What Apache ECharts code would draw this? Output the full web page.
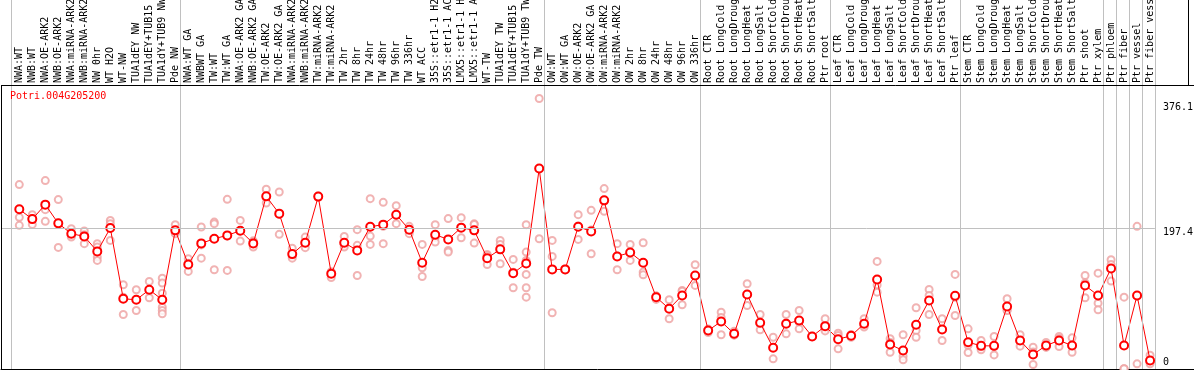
<!DOCTYPE html>
<html><head><meta charset="utf-8">
<script src="https://cdn.jsdelivr.net/npm/echarts@6/dist/echarts.min.js"></script>
<style>html,body{margin:0;padding:0;background:#fff}#c{width:1194px;height:370px}</style>
</head><body><div id="c"></div>
<script>
const geneId = 'Potri.004G205200';
const categories = [
 'NWA:WT','NWB:WT','NWA:OE-ARK2','NWB:OE-ARK2','NWA:miRNA-ARK2','NWB:miRNA-ARK2','NW 0hr','WT H2O','WT-NW','TUA1dEY NW','TUA1dEY+TUB15 NW','TUA1dY+TUB9 NW','Pde NW',
 'NWA:WT GA','NWBWT GA','TW:WT','TW:WT GA','NWA:OE-ARK2 GA','NWB:OE-ARK2 GA','TW:OE-ARK2','TW:OE-ARK2 GA','NWA:miRNA-ARK2 GA','NWB:miRNA-ARK2 GA','TW:miRNA-ARK2','TW:miRNA-ARK2',
 'TW 2hr','TW 8hr','TW 24hr','TW 48hr','TW 96hr','TW 336hr','WT ACC','35S::etr1-1 H2O','35S::etr1-1 ACC','LMX5::etr1-1 H2O','LMX5::etr1-1 ACC','WT-TW','TUA1dEY TW','TUA1dEY+TUB15 TW','TUA1dY+TUB9 TW','Pde TW',
 'OW:WT','OW:WT GA','OW:OE-ARK2','OW:OE-ARK2 GA','OW:miRNA-ARK2','OW:miRNA-ARK2','OW 2hr','OW 8hr','OW 24hr','OW 48hr','OW 96hr','OW 336hr',
 'Root CTR','Root LongCold','Root LongDrought','Root LongHeat','Root LongSalt','Root ShortCold','Root ShortDrought','Root ShortHeat','Root ShortSalt','Ptr root',
 'Leaf CTR','Leaf LongCold','Leaf LongDrought','Leaf LongHeat','Leaf LongSalt','Leaf ShortCold','Leaf ShortDrought','Leaf ShortHeat','Leaf ShortSalt','Ptr leaf',
 'Stem CTR','Stem LongCold','Stem LongDrought','Stem LongHeat','Stem LongSalt','Stem ShortCold','Stem ShortDrought','Stem ShortHeat','Stem ShortSalt',
 'Ptr shoot','Ptr xylem','Ptr phloem','Ptr fiber','Ptr vessel','Ptr fiber vessel'
];
const meanValues = [
 225.4,211,232.3,204.7,189.5,185.5,163.4,197.8,93.6,92.2,106.9,92.2,194.4,
 144.2,175.2,182.1,187,193.9,175.2,244.5,219,159.4,176.2,244.1,130.5,
 176.2,164.9,199.8,202.8,217.5,195.4,146.8,188,181.1,198.4,194.4,153.5,166.4,131.4,145.7,285.4,
 136.9,136.9,199.8,192.9,238.6,156,161.9,146.8,96,78.9,98.5,128,
 46.9,60.2,42,100,58.3,21.4,56.8,61.7,38.1,53.3,
 34.1,39.1,56.8,122.1,26.3,17.4,55.3,91.2,48.4,98.1,
 29.7,24.3,24.3,82.3,32.2,11.5,24.8,32.2,24.8,
 113.3,98.5,138.3,24.8,98.5,2.7
];
const replicateValues = [
 [261.8,213.6,201.8],[217.5,212,203.2],[267.7,224.9,207.7],[239.7,205,169.3],[196.9,187,184.5],[193.4,188,174.8],
 [174.8,169.8,155,150.1],[209.1,204.3,179.6],[114.3,96,70.5],[106.9,93,76.4],[119.2,106,95.1],
 [124,116.7,101.9,81.3,76.4,71.5],[202.8,191,189.5],
 [152.7,146,133.9],[199.3,173,153.5],[206.6,204.3,136.4],[240.1,186,135.4],[209.1,194,178.6],[179,177.1,169.8],
 [254.9,244,234.7],[250.9,218,188.5],[168,156.5,153.5],[184.5,175,168.9],[245,244,243.5],[133,133,125],
 [185.5,173,169.8],[195.4,172.3,128],[241.1,186,173.7],[235.7,200.3,174.8],[230.8,218,204.3],[200.3,196,189.5],
 [173.7,139.4,126.5],[202.8,184,177.1],[211.7,164.9,162.4],[213.1,198.5,183.6],[204,203.2,175.7],[159,157.5,144.2],
 [179.6,173.7,145.2],[151.6,132.7,109.9],[202.8,162.4,150.1,129.5,109.9,96],[388.6,285.5,182.1],
 [179.6,156,73],[137.5,136.9,136.3],[217.5,201,181.1],[223.9,194.8,160],[255.9,237.5,222.4],[174.8,156.8,136.4],
 [173.7,162,150.1],[176.2,132.9,129.1],[97.7,97.6,92.7],[92.2,80.3,64.2],[105.9,104.8,84.8],[143.8,127,113.3],
 [49,47,44],[73.9,66,40.6],[45.9,40.6,40],[115.8,100.4,83.8],[70.5,56.5,47.9],[37,22,5.2],[70.5,58,42],
 [76.4,59.3,49.4],[38.5,38,37.8],[64.2,49.4,46.3],
 [42.9,39.5,19.9],[41,39,37],[64.2,54.3,51.9],[148.7,114,103.4],[34.7,29.3,14.9],[40.6,9,3.7],[80.4,46.9,37],
 [107.4,98.5,70.5],[64.2,48.8,32.2],[129.5,95.8,69],
 [49.4,25,14.5],[32.2,22.3,18.4],[38.1,23.8,11],[93.6,77,76.4],[40.6,32.2,23.8],[22.3,15.4,-3.2],[29.4,22.7,22.3],
 [38.1,35.2,23.3],[36.1,23.4,14.9],
 [128,116.8,95.1],[131.4,87.2,77.4],[151.2,144,119.7],[96,-9.3,-9.3],[200.3,97.5,-2.2],[10.5,0,-2.2]
];
const yTickLabels = [0, 197.4, 376.1];
const refLineValue = 197.4;
// last category index of each group (boundary lines follow these)
const groupEnds = [-1, 12, 40, 52, 62, 72, 83, 84, 85, 86, 87];

const XMIN = -1.408, XMAX = 90.38, YMIN = -9.8, YMAX = 533.7;
const HEADER_Y = 408.1, PLOT_RIGHT_X = 87.37, BOX_RIGHT_X = 89.92;
const FONT = 'DejaVu Sans Mono';

const repPts = [];
replicateValues.forEach((arr, i) => arr.forEach(v => repPts.push([i, v])));
const meanPts = meanValues.map((v, i) => [i, v]);

const gray = {color:'#c0c0c0', width:1, type:'solid'};
const black = {color:'#000', width:1, type:'solid'};
const ml = [];
groupEnds.forEach(g => ml.push([{coord:[g+0.37, YMIN], lineStyle:gray},{coord:[g+0.37, YMAX], lineStyle:gray}]));
ml.push([{coord:[XMIN, refLineValue], lineStyle:gray},{coord:[PLOT_RIGHT_X, refLineValue], lineStyle:gray}]);
ml.push([{coord:[XMIN, YMIN], lineStyle:black},{coord:[XMIN, HEADER_Y], lineStyle:black}]);
ml.push([{coord:[XMIN, HEADER_Y], lineStyle:black},{coord:[XMAX, HEADER_Y], lineStyle:black}]);
ml.push([{coord:[BOX_RIGHT_X, HEADER_Y], lineStyle:black},{coord:[BOX_RIGHT_X, YMAX], lineStyle:black}]);

const chart = echarts.init(document.getElementById('c'), null, {renderer:'canvas'});
chart.setOption({
  animation:false,
  backgroundColor:'#fff',
  title:{text:geneId, left:10, top:91, padding:0,
    textStyle:{color:'#ff0000', fontSize:10, fontWeight:'normal', fontFamily:FONT}},
  grid:[
    {left:1, right:0, top:0, bottom:1, outerBoundsMode:'none', containLabel:false},
    {left:12.8, right:37.5, top:86, bottom:1, outerBoundsMode:'none', containLabel:false},
    {left:1, right:38, top:0, bottom:1, outerBoundsMode:'none', containLabel:false}
  ],
  xAxis:[
    {type:'value', gridIndex:0, min:XMIN, max:XMAX, axisLabel:{show:false}, axisTick:{show:false}, splitLine:{show:false},
     axisLine:{show:true, onZero:false, lineStyle:{color:'#000', width:1}}},
    {type:'category', gridIndex:1, data:categories, position:'top', boundaryGap:true,
     axisLine:{show:false}, axisTick:{show:false}, splitLine:{show:false},
     axisLabel:{rotate:90, interval:0, margin:3, fontSize:10, fontFamily:FONT, color:'#000', hideOverlap:false}},
    {type:'value', gridIndex:2, min:0, max:1, show:false}
  ],
  yAxis:[
    {type:'value', gridIndex:0, min:YMIN, max:YMAX, show:false},
    {type:'value', gridIndex:1, show:false},
    {type:'value', gridIndex:2, position:'right', min:YMIN, max:YMAX,
     axisLine:{show:false}, axisTick:{show:false}, splitLine:{show:false},
     axisLabel:{show:true, customValues:yTickLabels, margin:7, fontSize:10, fontFamily:FONT, color:'#000',
       formatter: v => (Math.abs(v - refLineValue) < 1e-6 ? '{d|' + v + '}' : String(v)),
       rich:{d:{fontSize:10, fontFamily:FONT, color:'#000', padding:[8,0,0,0]}}}}
  ],
  series:[
    {type:'line', xAxisIndex:0, yAxisIndex:0, data:[], z:1, silent:true,
     markLine:{silent:true, symbol:['none','none'], label:{show:false}, animation:false, data:ml}},
    {type:'scatter', xAxisIndex:0, yAxisIndex:0, data:repPts, z:2, symbol:'emptyCircle', symbolSize:7,
     itemStyle:{color:'#eea0a0', borderColor:'#eea0a0', borderWidth:1.1}},
    {type:'line', xAxisIndex:0, yAxisIndex:0, data:meanPts, z:3, symbol:'emptyCircle', symbolSize:8,
     lineStyle:{color:'#ff0000', width:1}, itemStyle:{color:'#ff0000', borderColor:'#ff0000', borderWidth:1.4}}
  ]
});
</script></body></html>
